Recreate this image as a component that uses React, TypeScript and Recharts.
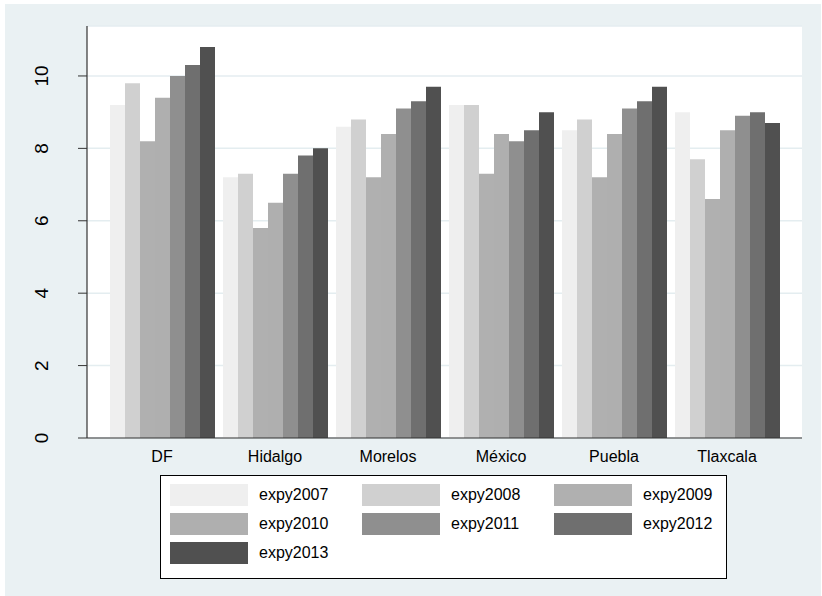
import React from "react";
import { BarChart, Bar, XAxis, YAxis, CartesianGrid } from "recharts";

// categories and series (mean expected years, by state)
const states = ["DF", "Hidalgo", "Morelos", "México", "Puebla", "Tlaxcala"];
const seriesNames = ["expy2007", "expy2008", "expy2009", "expy2010", "expy2011", "expy2012", "expy2013"];
const seriesColors = ["#EFEFEF", "#D0D0D0", "#B0B0B0", "#AFAFAF", "#8F8F8F", "#6F6F6F", "#505050"];

const expy2007 = [9.2, 7.2, 8.6, 9.2, 8.5, 9.0];
const expy2008 = [9.8, 7.3, 8.8, 9.2, 8.8, 7.7];
const expy2009 = [8.2, 5.8, 7.2, 7.3, 7.2, 6.6];
const expy2010 = [9.4, 6.5, 8.4, 8.4, 8.4, 8.5];
const expy2011 = [10.0, 7.3, 9.1, 8.2, 9.1, 8.9];
const expy2012 = [10.3, 7.8, 9.3, 8.5, 9.3, 9.0];
const expy2013 = [10.8, 8.0, 9.7, 9.0, 9.7, 8.7];

const yTicks = [0, 2, 4, 6, 8, 10];

const seriesValues = [expy2007, expy2008, expy2009, expy2010, expy2011, expy2012, expy2013];

const data = states.map((state, i) => {
  const row: Record<string, string | number> = { state };
  seriesNames.forEach((name, s) => {
    row[name] = seriesValues[s][i];
  });
  return row;
});

const FONT = "'Liberation Sans', Arial, Helvetica, sans-serif";
const W = 822;
const H = 596;

const YTick = (props: any) => {
  const { y, payload } = props;
  const cx = 41;
  return (
    <text
      x={cx}
      y={y}
      dy="0.36em"
      textAnchor="middle"
      transform={`rotate(-90, ${cx}, ${y})`}
      fontSize={19}
      fontFamily={FONT}
      fill="#000"
    >
      {payload.value}
    </text>
  );
};

const XTick = (props: any) => {
  const { x, y, payload } = props;
  return (
    <text x={x} y={y + 24} textAnchor="middle" fontSize={16} fontFamily={FONT} fill="#000">
      {payload.value}
    </text>
  );
};

function LegendBox() {
  return (
    <div
      style={{
        position: "absolute",
        left: 160,
        top: 475,
        width: 565,
        height: 102,
        border: "1px solid #000",
        background: "#fff",
        fontFamily: FONT,
        fontSize: 16,
      }}
    >
      {seriesNames.map((name, i) => {
        const col = i % 3;
        const row = Math.floor(i / 3);
        return (
          <div
            key={name}
            style={{ position: "absolute", left: 9 + col * 192, top: 8 + row * 29, height: 22 }}
          >
            <div style={{ position: "absolute", left: 0, top: 0, width: 78, height: 22, background: seriesColors[i] }} />
            <span style={{ position: "absolute", left: 89, top: 1, lineHeight: "20px", whiteSpace: "nowrap", color: "#000" }}>
              {name}
            </span>
          </div>
        );
      })}
    </div>
  );
}

export default function App() {
  return (
    <div style={{ position: "absolute", left: 0, top: 0, width: W, height: H, background: "#fff" }}>
      <div style={{ position: "absolute", left: 5, top: 4, width: W - 6, height: H - 4, background: "#EAF1F3" }} />
      <div style={{ position: "absolute", left: 0, top: 0 }}>
        <BarChart
          width={W}
          height={H}
          data={data}
          margin={{ top: 26, right: 20, left: 0, bottom: 118 }}
          barCategoryGap={4.5}
          barGap={0}
        >
          <CartesianGrid vertical={false} fill="#fff" stroke="#E4EDF0" strokeWidth={1.5} />
          <XAxis
            dataKey="state"
            height={40}
            padding={{ left: 18.5, right: 18.5 }}
            tickLine={false}
            tickSize={0}
            tickMargin={0}
            axisLine={{ stroke: "#333", strokeWidth: 1.2 }}
            tick={<XTick />}
            interval={0}
          />
          <YAxis
            width={87}
            domain={[0, 11.38]}
            ticks={yTicks}
            allowDataOverflow
            tickSize={9}
            tickLine={{ stroke: "#333", strokeWidth: 1 }}
            axisLine={{ stroke: "#333", strokeWidth: 1.2 }}
            tick={<YTick />}
          />
          {seriesNames.map((name, i) => (
            <Bar key={name} dataKey={name} fill={seriesColors[i]} isAnimationActive={false} />
          ))}
        </BarChart>
      </div>
      <LegendBox />
    </div>
  );
}
